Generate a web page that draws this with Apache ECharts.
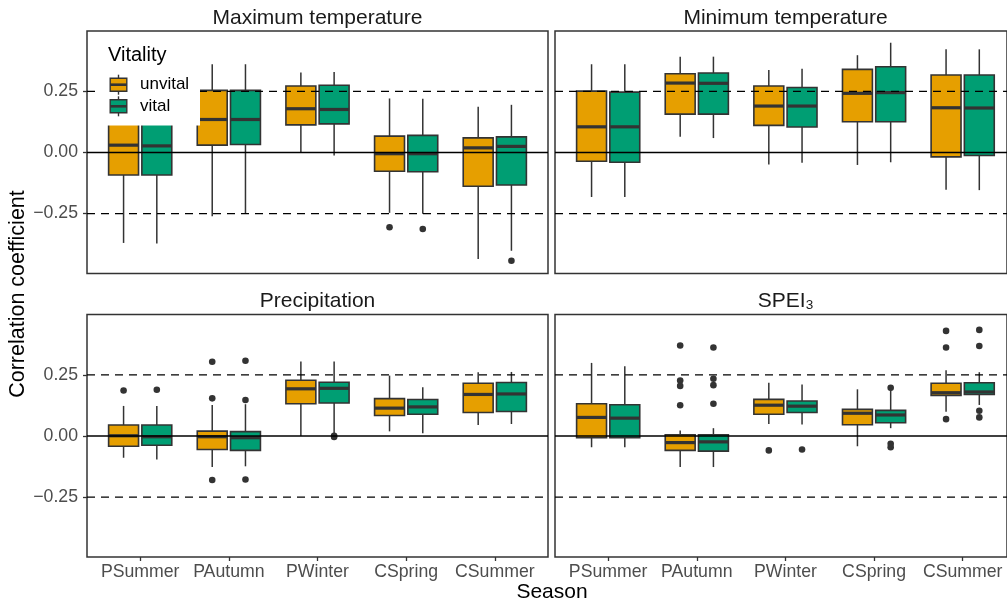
<!DOCTYPE html>
<html>
<head>
<meta charset="utf-8">
<title>Correlation coefficients by season and vitality</title>
<script src="https://cdn.jsdelivr.net/npm/echarts@6/dist/echarts.min.js"></script>
<style>
  html, body { margin: 0; padding: 0; background: #fff; }
  #chart { width: 1007px; height: 605px; }
</style>
</head>
<body>
<div id="chart"></div>
<script>
// Seasons on the x axis
const seasons = ['PSummer', 'PAutumn', 'PWinter', 'CSpring', 'CSummer'];
// Y-axis tick values and reference lines
const yTicks = [-0.25, 0, 0.25];
const refLines = [-0.25, 0, 0.25];
const groups = ['unvital', 'vital'];

// Box statistics per season: [lower whisker, Q1, median, Q3, upper whisker]
const tmaxUnvital = [
  [-0.370, -0.092, 0.030, 0.140, 0.330],
  [-0.261, 0.030, 0.135, 0.254, 0.361],
  [0.000, 0.113, 0.179, 0.272, 0.327],
  [-0.247, -0.077, -0.005, 0.067, 0.221],
  [-0.436, -0.138, 0.019, 0.060, 0.187]
];
const tmaxVital = [
  [-0.372, -0.092, 0.027, 0.140, 0.330],
  [-0.251, 0.033, 0.135, 0.254, 0.361],
  [-0.012, 0.117, 0.176, 0.275, 0.329],
  [-0.251, -0.079, -0.005, 0.070, 0.220],
  [-0.402, -0.133, 0.025, 0.064, 0.195]
];
const tminUnvital = [
  [-0.182, -0.036, 0.105, 0.251, 0.361],
  [0.064, 0.157, 0.284, 0.322, 0.392],
  [-0.049, 0.111, 0.190, 0.272, 0.337],
  [-0.051, 0.126, 0.242, 0.340, 0.398],
  [-0.152, -0.018, 0.183, 0.317, 0.422]
];
const tminVital = [
  [-0.182, -0.040, 0.105, 0.247, 0.361],
  [0.059, 0.157, 0.283, 0.325, 0.392],
  [-0.042, 0.104, 0.190, 0.266, 0.343],
  [-0.040, 0.126, 0.245, 0.351, 0.449],
  [-0.154, -0.012, 0.182, 0.317, 0.422]
];
const precUnvital = [
  [-0.089, -0.042, 0.001, 0.045, 0.123],
  [-0.127, -0.055, -0.003, 0.020, 0.127],
  [0.000, 0.132, 0.193, 0.228, 0.305],
  [0.019, 0.084, 0.114, 0.153, 0.247],
  [0.045, 0.096, 0.170, 0.216, 0.261]
];
const precVital = [
  [-0.096, -0.038, -0.003, 0.045, 0.123],
  [-0.124, -0.059, -0.007, 0.018, 0.130],
  [0.008, 0.135, 0.195, 0.220, 0.305],
  [0.011, 0.089, 0.119, 0.149, 0.199],
  [0.049, 0.100, 0.172, 0.219, 0.262]
];
const speiUnvital = [
  [-0.046, -0.007, 0.076, 0.132, 0.299],
  [-0.127, -0.059, -0.027, 0.005, 0.022],
  [0.049, 0.089, 0.126, 0.150, 0.218],
  [-0.042, 0.046, 0.093, 0.109, 0.191],
  [0.099, 0.166, 0.177, 0.216, 0.269]
];
const speiVital = [
  [-0.046, -0.007, 0.073, 0.128, 0.285],
  [-0.127, -0.062, -0.024, 0.005, 0.032],
  [0.047, 0.096, 0.122, 0.143, 0.211],
  [0.032, 0.054, 0.086, 0.105, 0.184],
  [0.127, 0.170, 0.180, 0.218, 0.261]
];

// Outliers: [season index, value]
const tmaxUnvitalOut = [[3, -0.306]];
const tmaxVitalOut = [[3, -0.313], [4, -0.443]];
const tminUnvitalOut = [];
const tminVitalOut = [];
const precUnvitalOut = [[0, 0.186], [1, 0.304], [1, 0.154], [1, -0.180]];
const precVitalOut = [[0, 0.189], [1, 0.308], [1, 0.147], [1, -0.178], [2, 0.001], [2, -0.004]];
const speiUnvitalOut = [[1, 0.370], [1, 0.227], [1, 0.205], [1, 0.126], [2, -0.059],
                        [4, 0.430], [4, 0.362], [4, 0.069]];
const speiVitalOut = [[1, 0.362], [1, 0.234], [1, 0.208], [1, 0.132], [2, -0.055],
                      [3, 0.197], [3, -0.032], [3, -0.046],
                      [4, 0.434], [4, 0.368], [4, 0.103], [4, 0.076]];

const panels = [
  { title: 'Maximum temperature', stats: [tmaxUnvital, tmaxVital], out: [tmaxUnvitalOut, tmaxVitalOut] },
  { title: 'Minimum temperature', stats: [tminUnvital, tminVital], out: [tminUnvitalOut, tminVitalOut] },
  { title: 'Precipitation', stats: [precUnvital, precVital], out: [precUnvitalOut, precVitalOut] },
  { title: 'SPEI{sub|3}', stats: [speiUnvital, speiVital], out: [speiUnvitalOut, speiVitalOut] }
];

// ---- styling / layout ----
const FONT = '"Liberation Sans", Arial, Helvetica, sans-serif';
const COLORS = ['#E69F00', '#009E73'];
const INK = '#333333';
const Y_MIN = -0.495, Y_MAX = 0.497;
const PANEL_W = 461, PANEL_H = 242.5;
const panelPos = [
  { left: 87, top: 31 }, { left: 555, top: 31 },
  { left: 87, top: 314.5 }, { left: 555, top: 314.5 }
];
const DODGE = 0.1875;   // box centre offset, fraction of band
const BOX_W = 0.3375;   // box width, fraction of band

function boxRenderer(groupIdx) {
  const off = (groupIdx === 0 ? -1 : 1) * DODGE;
  return function (params, api) {
    const i = api.value(0);
    const band = api.size([1, 0])[0];
    const cx = api.coord([i, 0])[0] + off * band;
    const w = BOX_W * band;
    const y = k => api.coord([i, api.value(k)])[1];
    const yLo = y(1), yQ1 = y(2), yMed = y(3), yQ3 = y(4), yHi = y(5);
    return {
      type: 'group',
      children: [
        { type: 'line', shape: { x1: cx, y1: yQ3, x2: cx, y2: yHi }, style: { stroke: INK, lineWidth: 1.5 } },
        { type: 'line', shape: { x1: cx, y1: yQ1, x2: cx, y2: yLo }, style: { stroke: INK, lineWidth: 1.5 } },
        { type: 'rect', shape: { x: cx - w / 2, y: yQ3, width: w, height: yQ1 - yQ3 },
          style: { fill: COLORS[groupIdx], stroke: INK, lineWidth: 1.6 } },
        { type: 'line', shape: { x1: cx - w / 2, y1: yMed, x2: cx + w / 2, y2: yMed },
          style: { stroke: INK, lineWidth: 3.2 } }
      ]
    };
  };
}

function outlierRenderer(groupIdx) {
  const off = (groupIdx === 0 ? -1 : 1) * DODGE;
  return function (params, api) {
    const band = api.size([1, 0])[0];
    const p = api.coord([api.value(0), api.value(1)]);
    return { type: 'circle', shape: { cx: p[0] + off * band, cy: p[1], r: 3.3 }, style: { fill: INK } };
  };
}

function refLineRenderer(params, api) {
  const v = api.value(1);
  const a = api.coord([0, v]), b = api.coord([1, v]);
  const style = { stroke: '#000', lineWidth: 1.4 };
  if (v !== 0) style.lineDash = [8, 6];
  return { type: 'line', shape: { x1: a[0], y1: a[1], x2: b[0], y2: b[1] }, style };
}

const grid = [], xAxis = [], yAxis = [], series = [], graphic = [];

panels.forEach((panel, p) => {
  const pos = panelPos[p];
  const isLeft = p % 2 === 0;
  const isBottom = p >= 2;
  const band = PANEL_W / (seasons.length + 0.2);
  const frame = grid.length;
  // outer frame: border, y axis, reference lines
  grid.push({ left: pos.left, top: pos.top, width: PANEL_W, height: PANEL_H,
              show: true, borderColor: INK, borderWidth: 1.5, backgroundColor: 'transparent' });
  // inner band grid: categorical seasons
  grid.push({ left: pos.left + 0.1 * band, top: pos.top, width: band * seasons.length, height: PANEL_H });
  const inner = frame + 1;

  xAxis.push({ gridIndex: frame, type: 'value', min: 0, max: 1, show: false });
  xAxis.push({
    gridIndex: inner, type: 'category', data: seasons, boundaryGap: true, position: 'bottom',
    axisLine: { show: false, onZero: false },
    axisTick: { show: isBottom, alignWithLabel: true, interval: 0, length: 4, lineStyle: { color: INK, width: 1.3 } },
    axisLabel: { show: isBottom, interval: 0, color: '#4D4D4D', fontSize: 17.7, fontFamily: FONT, margin: 6 },
    splitLine: { show: false }
  });
  yAxis.push({
    gridIndex: frame, type: 'value', min: Y_MIN, max: Y_MAX,
    axisLine: { show: false, onZero: false }, splitLine: { show: false },
    axisTick: { show: isLeft, length: 4, customValues: yTicks, lineStyle: { color: INK, width: 1.3 } },
    axisLabel: { show: isLeft, customValues: yTicks, color: '#4D4D4D', fontSize: 17.7, fontFamily: FONT, margin: 9,
                 formatter: v => (v < 0 ? '\u2212' : '') + Math.abs(v).toFixed(2) }
  });
  yAxis.push({ gridIndex: inner, type: 'value', min: Y_MIN, max: Y_MAX, show: false, splitLine: { show: false } });

  groups.forEach((g, gi) => {
    series.push({
      type: 'custom', name: g, xAxisIndex: inner, yAxisIndex: inner, z: 2,
      renderItem: boxRenderer(gi),
      encode: { x: 0, y: [1, 2, 3, 4, 5] },
      data: panel.stats[gi].map((s, i) => [i].concat(s))
    });
    series.push({
      type: 'custom', name: g + ' outliers', xAxisIndex: inner, yAxisIndex: inner, z: 3,
      renderItem: outlierRenderer(gi),
      encode: { x: 0, y: 1 },
      data: panel.out[gi]
    });
  });
  series.push({
    type: 'custom', xAxisIndex: frame, yAxisIndex: frame, z: 4, silent: true,
    renderItem: refLineRenderer, encode: { x: 0, y: 1 },
    data: refLines.map(v => [0, v])
  });

  // facet strip label
  graphic.push({
    type: 'text', x: pos.left + PANEL_W / 2, y: pos.top - 13, z: 50,
    style: {
      text: panel.title, fill: '#1A1A1A', font: '21px ' + FONT,
      textAlign: 'center', textVerticalAlign: 'middle',
      rich: {
        sub: { fontSize: 13.5, fontFamily: FONT, fill: '#1A1A1A', verticalAlign: 'bottom', lineHeight: 13 }
      }
    }
  });
});

// axis titles
graphic.push({
  type: 'text', x: 552, y: 592, z: 50,
  style: { text: 'Season', fill: '#000', font: '21px ' + FONT, textAlign: 'center', textVerticalAlign: 'middle' }
});
graphic.push({
  type: 'text', x: 18, y: 294, rotation: Math.PI / 2, z: 50,
  style: { text: 'Correlation coefficient', fill: '#000', font: '21.5px ' + FONT, textAlign: 'center', textVerticalAlign: 'middle' }
});

// legend inside the first panel
const LZ = 100;
graphic.push({ type: 'rect', z: LZ, shape: { x: 100, y: 38, width: 100, height: 87.5 }, style: { fill: '#fff' } });
graphic.push({ type: 'text', z: LZ + 1, x: 108, y: 55,
               style: { text: 'Vitality', fill: '#000', font: '20px ' + FONT, textVerticalAlign: 'middle' } });
groups.forEach((g, gi) => {
  const cy = 84.7 + gi * 21.6, cx = 118.5;
  graphic.push(
    { type: 'line', z: LZ + 1, shape: { x1: cx, y1: cy - 10, x2: cx, y2: cy + 10 }, style: { stroke: INK, lineWidth: 1.4 } },
    { type: 'rect', z: LZ + 2, shape: { x: cx - 8.3, y: cy - 6.5, width: 16.6, height: 13 },
      style: { fill: COLORS[gi], stroke: INK, lineWidth: 1.4 } },
    { type: 'line', z: LZ + 3, shape: { x1: cx - 8.3, y1: cy, x2: cx + 8.3, y2: cy }, style: { stroke: INK, lineWidth: 2.6 } },
    { type: 'text', z: LZ + 1, x: 140, y: cy, style: { text: g, fill: '#000', font: '17px ' + FONT, textVerticalAlign: 'middle' } }
  );
});

const chart = echarts.init(document.getElementById('chart'), null, { renderer: 'canvas' });
chart.setOption({
  animation: false,
  backgroundColor: '#fff',
  textStyle: { fontFamily: FONT },
  grid, xAxis, yAxis, series, graphic
});
</script>
</body>
</html>
